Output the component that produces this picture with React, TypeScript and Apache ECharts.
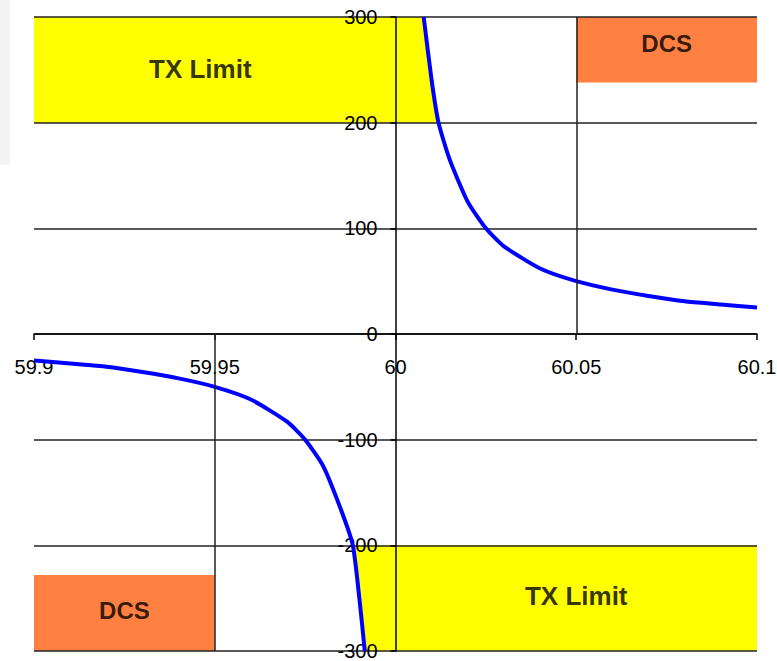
import React, { useEffect, useRef } from 'react';
import * as echarts from 'echarts';

// Axis ticks
const xTickLabels = ['59.9', '59.95', '60', '60.05', '60.1'];
const yTickLabels = ['-300', '-200', '-100', '0', '100', '200', '300'];

// Curve readings (frequency vs value), right branch
const posCurveX = [60.0078, 60.01, 60.0119, 60.015, 60.02, 60.025, 60.03, 60.04, 60.05, 60.06, 60.07, 60.08, 60.09, 60.1];
const posCurveY = [300, 240, 200, 165, 125, 100, 83, 62, 50, 42, 36, 31, 28, 25];
// left branch
const negCurveX = [59.9, 59.91, 59.92, 59.93, 59.94, 59.95, 59.96, 59.97, 59.975, 59.98, 59.985, 59.9882, 59.99, 59.9915];
const negCurveY = [-25, -28, -31, -36, -42, -50, -62, -83, -100, -125, -167, -200, -250, -300];

// TX Limit bands (bounded by the curve)
const txBandY = [[200, 300], [-300, -200]];
const txBandOuterX = [59.9, 60.1];
const txLabels = ['TX Limit', 'TX Limit'];
const txLabelX = [59.946, 60.05];
const txLabelY = [251, -248];

// DCS boxes
const dcsX = [[60.05, 60.1], [59.9, 59.95]];
const dcsY = [[238, 300], [-300, -228]];
const dcsLabels = ['DCS', 'DCS'];
const dcsLabelX = [60.075, 59.925];
const dcsLabelY = [275, -262];

// Half-height vertical lines
const dropLineX = [60.05, 59.95];
const dropLineY = [300, -300];

const X_MIN = 59.9;
const X_MAX = 60.1;
const X_STEP = 0.05;
const Y_MIN = -300;
const Y_MAX = 300;
const Y_STEP = 100;
const FONT = '"Liberation Sans", Arial, sans-serif';

export default function App() {
  const ref = useRef<HTMLDivElement>(null);

  useEffect(() => {
    if (!ref.current) return;
    const chart = echarts.init(ref.current, undefined, { renderer: 'svg' });

    const gridLeft = 34;
    const gridRight = 20;
    const gridTop = 17;
    const gridBottom = 10;
    const gridWidth = 777 - gridLeft - gridRight;
    const gridHeight = 661 - gridTop - gridBottom;
    const yAxisOffset = -gridWidth * ((60 - X_MIN) / (X_MAX - X_MIN));
    const xAxisOffset = -gridHeight * ((0 - Y_MIN) / (Y_MAX - Y_MIN));

    const posData = posCurveX.map((x, i) => [x, posCurveY[i]]);
    const negData = negCurveX.map((x, i) => [x, negCurveY[i]]);
    const allCurve = [...posData, ...negData];

    const textData = [
      ...txLabels.map((t, i) => ({
        value: [txLabelX[i], txLabelY[i]],
        name: t,
        label: { fontSize: 26 },
      })),
      ...dcsLabels.map((t, i) => ({
        value: [dcsLabelX[i], dcsLabelY[i]],
        name: t,
        label: { fontSize: 24 },
      })),
    ];

    const lineStyleGrid = { color: '#222', width: 1.5 };

    chart.setOption({
      animation: false,
      backgroundColor: '#fff',
      graphic: [
        {
          type: 'rect',
          shape: { x: 0, y: 0, width: 10, height: 165 },
          style: { fill: '#f4f4f4' },
          z: -1,
        },
      ],
      grid: {
        left: gridLeft,
        right: gridRight,
        top: gridTop,
        bottom: gridBottom,
        containLabel: false,
        outerBoundsMode: 'none',
      },
      xAxis: {
        type: 'value',
        min: X_MIN,
        max: X_MAX,
        interval: X_STEP,
        position: 'bottom',
        offset: xAxisOffset,
        z: 2,
        axisLine: { show: true, onZero: false, lineStyle: { color: '#000', width: 1.5 } },
        axisTick: { show: true, inside: false, length: 6, lineStyle: { color: '#000', width: 1.5 } },
        axisLabel: {
          margin: 23,
          color: '#000',
          fontSize: 20,
          fontFamily: FONT,
          formatter: (v: number) => xTickLabels[Math.round((v - X_MIN) / X_STEP)] ?? '',
        },
        splitLine: { show: false },
      },
      yAxis: {
        type: 'value',
        min: Y_MIN,
        max: Y_MAX,
        interval: Y_STEP,
        position: 'left',
        offset: yAxisOffset,
        z: 2,
        axisLine: { show: true, onZero: false, lineStyle: { color: '#000', width: 1.5 } },
        axisTick: { show: true, length: 5, lineStyle: { color: '#000', width: 1.5 } },
        axisLabel: {
          margin: 18,
          color: '#000',
          fontSize: 20,
          fontFamily: FONT,
          formatter: (v: number) => yTickLabels[Math.round((v - Y_MIN) / Y_STEP)] ?? '',
        },
        splitLine: { show: true, lineStyle: lineStyleGrid },
      },
      series: [
        {
          type: 'custom',
          name: 'TX Limit',
          z: 1,
          silent: true,
          data: txBandOuterX.map((x, i) => [x, txBandY[i][0]]),
          renderItem: (params: any, api: any) => {
            const i = params.dataIndex;
            const [lo, hi] = txBandY[i];
            const outer = txBandOuterX[i];
            const pts = allCurve
              .filter((p) => p[1] >= lo && p[1] <= hi)
              .sort((a, b) => b[1] - a[1]);
            const poly = [[outer, lo], [outer, hi], ...pts].map((p) => api.coord(p));
            return { type: 'polygon', shape: { points: poly }, style: { fill: '#ffff00' } };
          },
        },
        {
          type: 'custom',
          name: 'DCS',
          z: 1,
          silent: true,
          data: dcsX.map((xs, i) => [xs[0], dcsY[i][0]]),
          renderItem: (params: any, api: any) => {
            const i = params.dataIndex;
            const p0 = api.coord([dcsX[i][0], dcsY[i][1]]);
            const p1 = api.coord([dcsX[i][1], dcsY[i][0]]);
            return {
              type: 'rect',
              shape: { x: p0[0], y: p0[1], width: p1[0] - p0[0], height: p1[1] - p0[1] },
              style: { fill: '#ff8040' },
            };
          },
        },
        {
          type: 'line',
          name: 'right',
          data: posData,
          showSymbol: false,
          smooth: 0.2,
          z: 3,
          lineStyle: { color: '#0000ff', width: 4 },
          markLine: {
            silent: true,
            symbol: 'none',
            label: { show: false },
            lineStyle: { color: '#222', width: 1.5, type: 'solid' },
            data: dropLineX.map((x, i) => [{ coord: [x, 0] }, { coord: [x, dropLineY[i]] }]),
          },
        },
        {
          type: 'line',
          name: 'left',
          data: negData,
          showSymbol: false,
          smooth: 0.2,
          z: 3,
          lineStyle: { color: '#0000ff', width: 4 },
        },
        {
          type: 'scatter',
          name: 'labels',
          z: 4,
          silent: true,
          symbolSize: 2,
          itemStyle: { color: 'rgba(0,0,0,0)' },
          data: textData,
          labelLayout: { hideOverlap: false },
          label: {
            show: true,
            position: 'inside',
            formatter: '{b}',
            color: '#000',
            fontWeight: 'bold',
            fontFamily: FONT,
          },
        },
      ],
    });

    return () => chart.dispose();
  }, []);

  return (
    <div
      ref={ref}
      style={{ position: 'fixed', left: 0, top: 0, width: 777, height: 661, background: '#fff' }}
    />
  );
}
